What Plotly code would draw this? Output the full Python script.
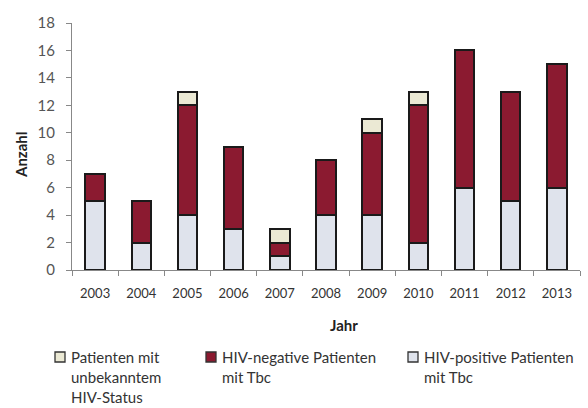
import plotly.graph_objects as go

# Tuberkulose-Fälle pro Jahr nach HIV-Status
jahre = ["2003", "2004", "2005", "2006", "2007", "2008", "2009", "2010", "2011", "2012", "2013"]
hiv_positiv = [5, 2, 4, 3, 1, 4, 4, 2, 6, 5, 6]
hiv_negativ = [2, 3, 8, 6, 1, 4, 6, 10, 10, 8, 9]
hiv_unbekannt = [0, 0, 1, 0, 1, 0, 1, 1, 0, 0, 0]

namen = [["Patienten mit", "unbekanntem", "HIV-Status"],
         ["HIV-negative Patienten", "mit Tbc"],
         ["HIV-positive Patienten", "mit Tbc"]]
farben = {"pos": "#dfe3ec", "neg": "#8b1a30", "unk": "#ebe9d4"}

FONT = "Lato"
W, H = 588, 408
L, R, T, B = 72, 8, 23, 138
PW, PH = W - L - R, H - T - B

def px(x):
    return (x - L) / PW

def py(y):
    return (H - B - y) / PH

line = dict(color="#1a1a1a", width=2)
fig = go.Figure()
for werte, col in [(hiv_positiv, farben["pos"]), (hiv_negativ, farben["neg"]), (hiv_unbekannt, farben["unk"])]:
    fig.add_trace(go.Bar(x=jahre, y=werte, marker=dict(color=col, line=line),
                         width=0.42, showlegend=False))

# Legende unterhalb der Achse
legende = [(55, farben["unk"], namen[0]), (206, farben["neg"], namen[1]), (408, farben["pos"], namen[2])]
for x0, col, zeilen in legende:
    fig.add_shape(type="rect", xref="paper", yref="paper",
                  x0=px(x0), x1=px(x0 + 10), y0=py(362), y1=py(352),
                  fillcolor=col, line=dict(color="#333", width=1.3))
    for i, txt in enumerate(zeilen):
        fig.add_annotation(xref="paper", yref="paper", x=px(x0 + 14), y=py(357 + 20 * i),
                           xanchor="left", yanchor="middle", align="left", showarrow=False,
                           text=txt, font=dict(family=FONT, size=15, color="#333"))

fig.add_annotation(xref="paper", yref="paper", x=px(344), y=py(325), showarrow=False,
                   xanchor="center", yanchor="middle",
                   text="<b>Jahr</b>", font=dict(family=FONT, size=15, color="#222"))
fig.add_annotation(xref="paper", yref="paper", x=px(21), y=py(155), showarrow=False,
                   xanchor="center", yanchor="middle", textangle=-90,
                   text="<b>Anzahl</b>", font=dict(family=FONT, size=15, color="#222"))

fig.update_layout(
    barmode="stack", width=W, height=H,
    margin=dict(l=L, r=R, t=T, b=B),
    paper_bgcolor="white", plot_bgcolor="white",
    font=dict(family=FONT, color="#444"),
)
fig.update_xaxes(type="category", range=[-0.5, 10.5], showline=True, linecolor="#888", linewidth=1,
                 ticks="outside", tickson="boundaries", ticklen=5, tickcolor="#888",
                 ticklabelstandoff=11, tickfont=dict(family=FONT, size=13, color="#333"),
                 showgrid=False, zeroline=False)
fig.update_yaxes(range=[0, 18], dtick=2, showline=True, linecolor="#888", linewidth=1,
                 ticks="outside", ticklen=5, tickcolor="#888", ticklabelstandoff=8,
                 tickfont=dict(family=FONT, size=15, color="#555"),
                 showgrid=False, zeroline=False)

fig.write_html("out.html")
